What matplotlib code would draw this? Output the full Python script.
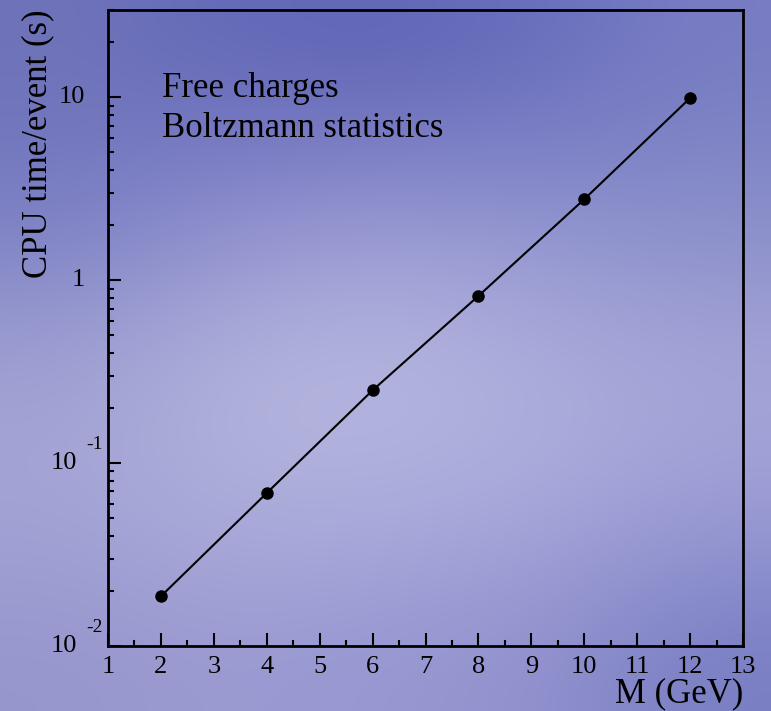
import matplotlib
matplotlib.use("Agg")
import matplotlib.pyplot as plt
import matplotlib.ticker as ticker
import matplotlib.transforms as mtrans
import numpy as np

## data
mass = [2, 4, 6, 8, 10, 12]
cpu_time = [0.0187, 0.0686, 0.25, 0.82, 2.77, 9.9]

x_ticks = list(range(1, 14))
y_major = [0.01, 0.1, 1, 10]
y_labels = [("10", "-2"), ("10", "-1"), ("1", ""), ("10", "")]

notes = ["Free charges", "Boltzmann statistics"]

FONT = "Liberation Serif"

fig = plt.figure(figsize=(7.71, 7.11), dpi=100)

## cloudy blue background (smooth colour field)
ctrl = np.array([
    [[110, 115, 185], [100, 105, 185], [95, 100, 180], [105, 110, 190], [120, 125, 195]],
    [[120, 125, 195], [140, 140, 205], [150, 150, 210], [140, 145, 205], [135, 140, 200]],
    [[160, 160, 210], [180, 180, 220], [185, 185, 225], [175, 175, 220], [165, 165, 215]],
    [[165, 165, 215], [175, 175, 220], [175, 175, 222], [170, 170, 220], [160, 160, 215]],
    [[150, 150, 205], [155, 155, 210], [150, 150, 210], [145, 145, 205], [120, 125, 195]],
]) / 255.0
bg = fig.add_axes([0, 0, 1, 1], zorder=-1)
bg.imshow(ctrl, aspect="auto", interpolation="bicubic", extent=[0, 1, 0, 1])
bg.set_axis_off()

ax = fig.add_axes([108 / 771, 65 / 711, 635 / 771, 636 / 711])
ax.patch.set_alpha(0)

ax.plot(mass, cpu_time, color="black", lw=1.5, marker="o", markersize=8)

ax.set_yscale("log")
ax.set_xlim(1, 13)
ax.set_ylim(0.01, 30)

for s in ax.spines.values():
    s.set_linewidth(2)

ax.xaxis.set_major_locator(ticker.FixedLocator(x_ticks))
ax.xaxis.set_minor_locator(ticker.MultipleLocator(0.5))
ax.yaxis.set_major_locator(ticker.FixedLocator(y_major))
ax.yaxis.set_minor_locator(ticker.LogLocator(base=10, subs=np.arange(2, 10)))
ax.yaxis.set_minor_formatter(ticker.NullFormatter())
ax.set_yticklabels([])

ax.tick_params(which="major", direction="in", length=9.5, width=1.5,
               top=False, right=False, labelsize=19, pad=7)
ax.tick_params(which="minor", direction="in", length=4.5, width=1.5,
               top=False, right=False)
for lab in ax.get_xticklabels():
    lab.set_fontfamily(FONT)

## y tick labels, ROOT style exponents
trans = mtrans.blended_transform_factory(ax.transAxes, ax.transData)
up = mtrans.offset_copy(trans, fig=fig, x=0, y=19, units="dots")
for val, (base, exp) in zip(y_major, y_labels):
    if exp:
        ax.text(-0.048, val, base, transform=trans, ha="right", va="center",
                fontsize=19, family=FONT)
        ax.text(-0.008, val, exp, transform=up, ha="right", va="center",
                fontsize=14, family=FONT)
    else:
        ax.text(-0.036, val, base, transform=trans, ha="right", va="center",
                fontsize=19, family=FONT)

ax.set_xlabel("M (GeV)", fontsize=25, family=FONT, loc="right")
ax.xaxis.set_label_coords(1.0, -0.05)
ax.set_ylabel("CPU time/event (s)", fontsize=25, family=FONT, loc="top")
ax.yaxis.set_label_coords(-0.084, 1.0)

ax.text(0.085, 0.902, notes[0], transform=ax.transAxes, fontsize=25, family=FONT,
        va="top")
ax.text(0.085, 0.839, notes[1], transform=ax.transAxes, fontsize=25, family=FONT,
        va="top")

fig.savefig("out.png", dpi=100)
